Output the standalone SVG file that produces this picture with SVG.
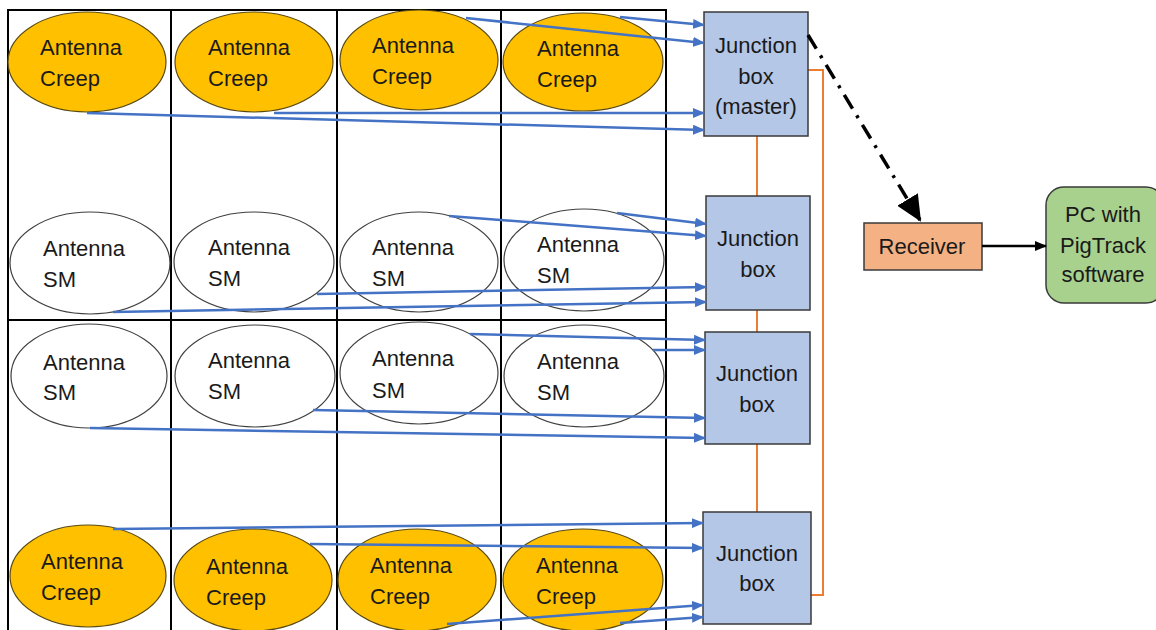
<svg xmlns="http://www.w3.org/2000/svg" width="1156" height="630" viewBox="0 0 1156 630">
<defs>
<style>
text{font-family:"Liberation Sans",Arial,sans-serif;font-size:22px;fill:#1a1a1a}
.c{text-anchor:middle}
.grid{stroke:#000;stroke-width:2;fill:none}
.creep{fill:#FFC000;stroke:#5a4a10;stroke-width:1.2}
.sm{fill:#fff;stroke:#404040;stroke-width:1.2}
.jb{fill:#B4C7E7;stroke:#3a3a3a;stroke-width:1.5}
.blue{stroke:#4472C4;stroke-width:2.5;fill:none;marker-end:url(#ab)}
.org{stroke:#ED7D31;stroke-width:2;fill:none}
</style>
<marker id="ab" markerUnits="userSpaceOnUse" markerWidth="12" markerHeight="10" refX="11" refY="5" orient="auto">
<path d="M0,0 L12,5 L0,10 Z" fill="#4472C4"/>
</marker>
<marker id="abk" markerUnits="userSpaceOnUse" markerWidth="26" markerHeight="24" refX="24" refY="12" orient="auto">
<path d="M0,0 L26,12 L0,24 Z" fill="#000"/>
</marker>
<marker id="abs" markerUnits="userSpaceOnUse" markerWidth="12" markerHeight="10" refX="11" refY="5" orient="auto">
<path d="M0,0 L12,5 L0,10 Z" fill="#000"/>
</marker>
</defs>
<rect width="1156" height="630" fill="#fff"/>
<g id="grid" class="grid">
<line x1="8" y1="10" x2="666" y2="10"/>
<line x1="8" y1="320" x2="666" y2="320"/>
<line x1="8" y1="9" x2="8" y2="630"/>
<line x1="171" y1="9" x2="171" y2="630"/>
<line x1="337" y1="9" x2="337" y2="630"/>
<line x1="501" y1="9" x2="501" y2="630"/>
<line x1="666" y1="9" x2="666" y2="630"/>
</g>
<g id="r1e1"><ellipse class="creep" cx="87" cy="62" rx="79" ry="50"/><text x="40" y="55">Antenna</text><text x="40" y="86">Creep</text></g>
<g id="r1e2"><ellipse class="creep" cx="254" cy="62" rx="79" ry="50"/><text x="208" y="55">Antenna</text><text x="208" y="86">Creep</text></g>
<g id="r1e3"><ellipse class="creep" cx="419" cy="60" rx="79" ry="50"/><text x="372" y="53">Antenna</text><text x="372" y="84">Creep</text></g>
<g id="r1e4"><ellipse class="creep" cx="583" cy="62" rx="80" ry="49"/><text x="537" y="56">Antenna</text><text x="537" y="87">Creep</text></g>
<g id="r2e1"><ellipse class="sm" cx="90" cy="263" rx="80" ry="51"/><text x="43" y="256">Antenna</text><text x="43" y="287">SM</text></g>
<g id="r2e2"><ellipse class="sm" cx="254" cy="262" rx="80" ry="50"/><text x="208" y="255">Antenna</text><text x="208" y="286">SM</text></g>
<g id="r2e3"><ellipse class="sm" cx="419" cy="262" rx="79" ry="50"/><text x="372" y="255">Antenna</text><text x="372" y="286">SM</text></g>
<g id="r2e4"><ellipse class="sm" cx="584" cy="260" rx="80" ry="51"/><text x="537" y="252">Antenna</text><text x="537" y="283">SM</text></g>
<g id="r3e1"><ellipse class="sm" cx="89" cy="376" rx="78" ry="52"/><text x="43" y="370">Antenna</text><text x="43" y="400">SM</text></g>
<g id="r3e2"><ellipse class="sm" cx="255" cy="376" rx="80" ry="51"/><text x="208" y="368">Antenna</text><text x="208" y="399">SM</text></g>
<g id="r3e3"><ellipse class="sm" cx="419" cy="373" rx="79" ry="51"/><text x="372" y="366">Antenna</text><text x="372" y="398">SM</text></g>
<g id="r3e4"><ellipse class="sm" cx="584" cy="376" rx="80" ry="51"/><text x="537" y="369">Antenna</text><text x="537" y="400">SM</text></g>
<g id="r4e1"><ellipse class="creep" cx="88" cy="576" rx="78" ry="51"/><text x="41" y="569">Antenna</text><text x="41" y="600">Creep</text></g>
<g id="r4e2"><ellipse class="creep" cx="253" cy="580" rx="79" ry="51"/><text x="206" y="574">Antenna</text><text x="206" y="605">Creep</text></g>
<g id="r4e3"><ellipse class="creep" cx="417" cy="580" rx="79" ry="51"/><text x="370" y="573">Antenna</text><text x="370" y="604">Creep</text></g>
<g id="r4e4"><ellipse class="creep" cx="583" cy="580" rx="80" ry="51"/><text x="536" y="573">Antenna</text><text x="536" y="604">Creep</text></g>
<g id="orange">
<polyline class="org" points="757,136 757,512"/>
<polyline class="org" points="808,70 823,70 823,595 811,595"/>
</g>
<g id="jb1"><rect class="jb" x="704" y="12" width="104" height="124"/><text class="c" x="756" y="53">Junction</text><text class="c" x="756" y="84">box</text><text class="c" x="756" y="114">(master)</text></g>
<g id="jb2"><rect class="jb" x="706" y="196" width="104" height="114"/><text class="c" x="758" y="246">Junction</text><text class="c" x="758" y="277">box</text></g>
<g id="jb3"><rect class="jb" x="705" y="332" width="105" height="112"/><text class="c" x="757" y="381">Junction</text><text class="c" x="757" y="412">box</text></g>
<g id="jb4"><rect class="jb" x="703" y="512" width="108" height="112"/><text class="c" x="757" y="561">Junction</text><text class="c" x="757" y="591">box</text></g>
<g id="receiver"><rect x="864" y="223" width="118" height="47" fill="#F4B183" stroke="#3a3a3a" stroke-width="1.5"/><text class="c" x="922" y="254">Receiver</text></g>
<g id="pc"><rect x="1046" y="187" width="118" height="116" rx="18" fill="#A9D18E" stroke="#3a3a3a" stroke-width="1.5"/><text class="c" x="1103" y="222">PC with</text><text class="c" x="1103" y="253">PigTrack</text><text class="c" x="1103" y="282">software</text></g>
<g id="connectors">
<line class="blue" x1="466" y1="18" x2="704" y2="43"/>
<line class="blue" x1="620" y1="17" x2="704" y2="25"/>
<line class="blue" x1="274" y1="113" x2="704" y2="113"/>
<line class="blue" x1="87" y1="113" x2="704" y2="130"/>
<line class="blue" x1="449" y1="216" x2="706" y2="236"/>
<line class="blue" x1="617" y1="213" x2="706" y2="224"/>
<line class="blue" x1="317" y1="294" x2="706" y2="287"/>
<line class="blue" x1="113" y1="312" x2="706" y2="302"/>
<line class="blue" x1="470" y1="334" x2="705" y2="340"/>
<line class="blue" x1="653" y1="350" x2="705" y2="350"/>
<line class="blue" x1="313" y1="410" x2="705" y2="418"/>
<line class="blue" x1="90" y1="428" x2="705" y2="438"/>
<line class="blue" x1="113" y1="529" x2="703" y2="523"/>
<line class="blue" x1="310" y1="544" x2="703" y2="548"/>
<line class="blue" x1="447" y1="624" x2="703" y2="605"/>
<line class="blue" x1="620" y1="623" x2="703" y2="617"/>
<line x1="808" y1="35" x2="920" y2="220" stroke="#000" stroke-width="3.5" stroke-dasharray="16,8,3,8" marker-end="url(#abk)"/>
<line x1="982" y1="246" x2="1046" y2="246" stroke="#000" stroke-width="2.5" marker-end="url(#abs)"/>
</g>
</svg>
